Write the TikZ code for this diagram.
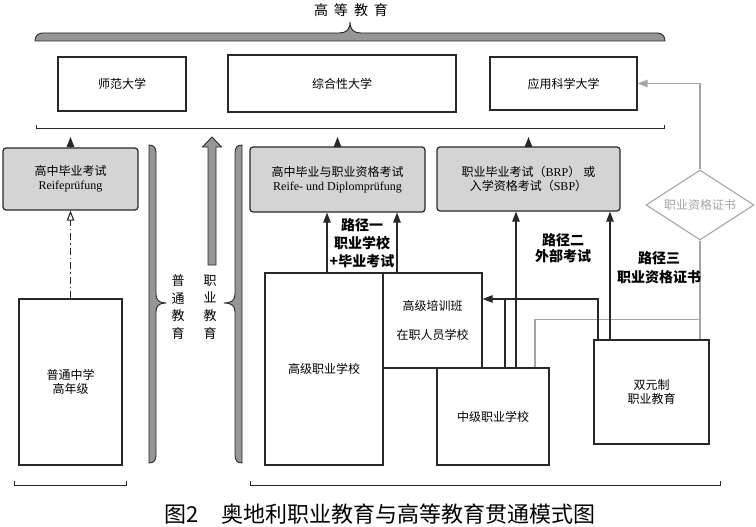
\documentclass[tikz,border=0pt]{standalone}
\usepackage{fontspec}
\setmainfont{Liberation Serif}
\newfontfamily\cjk{Noto Sans CJK SC}
\usetikzlibrary{arrows.meta,shapes.geometric}
\definecolor{boxgray}{RGB}{212,212,212}
\definecolor{bracegray}{RGB}{150,150,150}
\definecolor{linegray}{RGB}{165,165,165}
\definecolor{ink}{RGB}{40,40,40}
\begin{document}
\begin{tikzpicture}[x=1pt,y=-1pt,
  box/.style={draw=ink, line width=1.2pt, fill=white, inner sep=0pt, align=center,
    font=\cjk\fontsize{12}{14}\selectfont},
  exam/.style={box, fill=boxgray, rounded corners=3pt},
  arr/.style={draw=ink, line width=1.1pt, -{Triangle[length=10pt,width=7.5pt]}},
  ln/.style={draw=ink, line width=1.1pt},
  garr/.style={draw=linegray, line width=1.1pt, -{Triangle[length=10pt,width=7.5pt]}},
  gln/.style={draw=linegray, line width=1.1pt},
  lbl/.style={inner sep=0pt, align=center, font=\cjk\bfseries\fontsize{14}{18}\selectfont},
  vt/.style={inner sep=0pt, align=center, font=\cjk\fontsize{13}{17.7}\selectfont},
  brace/.style={fill=bracegray, draw=ink, line width=0.9pt, line join=round}]
\useasboundingbox (0,0) rectangle (756,527);

% top text and brace
\node[inner sep=0pt, font=\cjk\fontsize{14}{16}\selectfont] (top) at (351,10) {高\hspace{6pt}等\hspace{6pt}教\hspace{6pt}育};
\draw[brace] (35,41) .. controls (35,36) and (38,33) .. (43,33) -- (339,33)
  .. controls (346,33) and (350,30) .. (350,22) .. controls (350,30) and (354,33) .. (361,33)
  -- (657,33) .. controls (662,33) and (665,36) .. (665,41) -- cycle;

% line under universities
\draw[ln, line width=1pt] (36,125) -- (36,129) -- (664,129) -- (664,125);

% vertical braces
\draw[brace] (149,145) .. controls (154,145) and (156,148) .. (156,153) -- (156,294)
  .. controls (156,300) and (159,303) .. (166,303) .. controls (159,303) and (156,306) .. (156,312)
  -- (156,455) .. controls (156,460) and (154,463) .. (149,463) -- cycle;
\draw[brace] (242,145) .. controls (237,145) and (235,148) .. (235,153) -- (235,294)
  .. controls (235,300) and (232,303) .. (224,303) .. controls (232,303) and (235,306) .. (235,312)
  -- (235,455) .. controls (235,460) and (237,463) .. (242,463) -- cycle;

% big hollow arrow
\draw[brace, line join=miter] (208,265) -- (208,147) -- (202.5,147) -- (212,137) -- (221.5,147) -- (216,147) -- (216,265) -- cycle;

\node[vt] (v1) at (178,307) {普\\通\\教\\育};
\node[vt] (v2) at (210,307) {职\\业\\教\\育};

% bottom brackets
\draw[ln, line width=1pt] (14,481) -- (14,485) -- (126,485) -- (126,481);
\draw[ln, line width=1pt] (250,481) -- (250,485) -- (720,485) -- (720,481);

% universities
\node[box, minimum width=128pt, minimum height=54pt] (sf) at (122,84) {师范大学};
\node[box, minimum width=228pt, minimum height=57pt] (zh) at (342,83.5) {综合性大学};
\node[box, minimum width=147pt, minimum height=53pt] (yy) at (563.5,83.5) {应用科学大学};

% exams
\node[exam, minimum width=135pt, minimum height=62pt] (g1) at (70.5,179) {高中毕业考试\\{\rmfamily Reifeprüfung}};
\node[exam, minimum width=175pt, minimum height=65pt] (g2) at (337.5,179.5) {高中毕业与职业资格考试\\{\rmfamily Reife- und Diplomprüfung}};
\node[exam, minimum width=183pt, minimum height=64pt] (g3) at (528.5,179) {职业毕业考试（{\rmfamily BRP}）\hspace{3pt}或\\入学资格考试（{\rmfamily SBP}）};

% schools
\node[box, minimum width=103pt, minimum height=166pt] (pt) at (70.5,382) {普通中学\\高年级};
\node[box, minimum width=118pt, minimum height=192pt] (gz) at (324,369) {高级职业学校};
\node[box, minimum width=99pt, minimum height=95pt] (px) at (432.5,320.5) {高级培训班\\[15pt]在职人员学校};
\node[box, minimum width=112pt, minimum height=97pt] (zj) at (493,416.5) {中级职业学校};
\node[box, minimum width=115pt, minimum height=104pt] (sy) at (651.5,392) {双元制\\职业教育};
\node[diamond, draw=linegray, line width=1.1pt, fill=white, aspect=1.54, minimum width=108pt,
  minimum height=70pt, inner sep=0pt, text=linegray, font=\cjk\fontsize{12}{14}\selectfont] (dm) at (700,205) {职业资格证书};

% arrows to higher education line
\coordinate (t1) at (70.5,137);
\coordinate (t2) at (337.5,137);
\coordinate (t3) at (528.5,137);
\draw[arr] (g1.north) -- (t1);
\draw[arr] (g2.north) -- (t2);
\draw[arr] (g3.north) -- (t3);

% dash-dot
\draw[draw=ink, line width=1.1pt, dash pattern=on 7pt off 3pt on 1.5pt off 3pt,
  -{Triangle[open,length=10pt,width=7.5pt]}] (pt.north) -- (g1.south);

% coordinates
\coordinate (a1) at ([xshift=3pt]gz.north);
\coordinate (a2) at ([xshift=-35.5pt]px.north);
\coordinate (jn) at ([yshift=21.5pt]px.east);
\coordinate (b1) at ([xshift=12pt]zj.north);
\coordinate (b2) at ([xshift=23pt]zj.north);
\coordinate (b3) at ([xshift=42pt]zj.north);
\coordinate (c1) at ([xshift=-53.5pt]sy.north);
\coordinate (c2) at ([xshift=-41.5pt]sy.north);
\coordinate (c3) at (dm.south |- sy.north);
\coordinate (gk) at ([yshift=20pt]c3);

% gray connectors
\draw[garr] (dm.north) |- (yy.east);
\draw[gln] (dm.south) -- (c3);
\draw[gln] (b3) |- (gk);

% path arrows
\draw[arr] (a1) -- (a1 |- g2.south);
\draw[arr] (a2) -- (a2 |- g2.south);
\draw[ln] (b1) -- (b1 |- jn);
\draw[arr] (b2) -- (b2 |- g3.south);
\draw[arr] (c1) |- (jn);
\draw[arr] (c2) -- (c2 |- g3.south);

% labels
\node[lbl] (l1) at (362,243) {路径一\\职业学校\\+毕业考试};
\node[lbl, font=\cjk\bfseries\fontsize{14}{16.5}\selectfont] (l2) at (563,248) {路径二\\外部考试};
\node[lbl, font=\cjk\bfseries\fontsize{14}{19}\selectfont] (l3) at (659,267.5) {路径三\\职业资格证书};

% caption
\node[inner sep=0pt, font=\cjk\fontsize{22}{24}\selectfont] (cap) at (380,514) {图2\hspace{1em}奥地利职业教育与高等教育贯通模式图};
\end{tikzpicture}
\end{document}
